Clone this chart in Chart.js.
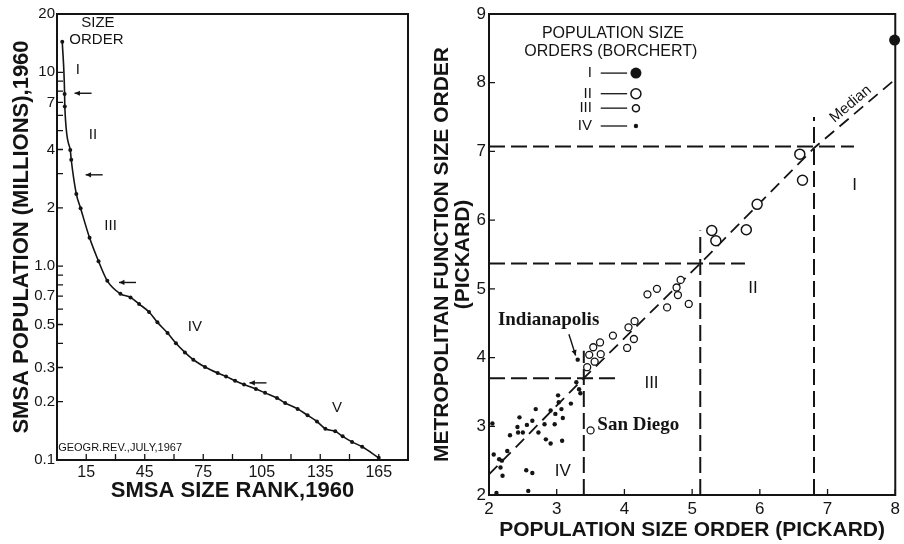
<!DOCTYPE html>
<html>
<head>
<meta charset="utf-8">
<script src="https://cdn.jsdelivr.net/npm/chart.js@4.4.1/dist/chart.umd.min.js"></script>
<style>
  body { margin: 0; background: #fff; }
  #wrap { position: relative; width: 904px; height: 544px; }
  #rankchart { position: absolute; left: 0; top: 0; }
  #orderchart { position: absolute; left: 430px; top: 0; }
</style>
</head>
<body>
<div id="wrap">
  <canvas id="rankchart" width="430" height="544"></canvas>
  <canvas id="orderchart" width="474" height="544"></canvas>
</div>
<script>
// left panel: SMSA rank vs population (millions), log scale
const smsaRanks = [2.7, 3.9, 4.0, 6.8, 7.3, 9.9, 12.1, 16.7, 21.3, 25.8, 32.5, 37.7, 42.1, 47.2, 51.5, 56.7, 61.0, 65.6, 69.9, 75.9,
  82.4, 86.7, 91.3, 95.9, 102.0, 106.7, 112.8, 117.0, 123.4, 128.5, 133.3, 137.6, 142.7, 146.5, 151.3, 156.5, 165.0];
const smsaPop = [14.4, 7.74, 6.66, 3.98, 3.54, 2.36, 1.99, 1.40, 1.06, 0.84, 0.72, 0.69, 0.638, 0.58, 0.513, 0.452, 0.40, 0.359, 0.329, 0.302,
  0.281, 0.270, 0.2565, 0.245, 0.2325, 0.222, 0.209, 0.197, 0.1835, 0.170, 0.158, 0.145, 0.1406, 0.1325, 0.124, 0.117, 0.1026];
const rankTicks = [15, 30, 45, 60, 75, 90, 105, 120, 135, 150, 165];
const popTicks = [0.1, 0.2, 0.3, 0.4, 0.5, 0.6, 0.7, 0.8, 0.9, 1, 2, 3, 4, 5, 6, 7, 8, 9, 10, 20];
const popLabels = { 0.1: '0.1', 0.2: '0.2', 0.3: '0.3', 0.5: '0.5', 0.7: '0.7', 1: '1.0', 2: '2', 4: '4', 7: '7', 10: '10', 20: '20' };
// size order breaks marked with arrows [rank, population]
const orderBreaks = [[9, 7.8], [14.7, 2.96], [31.8, 0.824], [98.7, 0.25]];
const orderNames = ['I', 'II', 'III', 'IV', 'V'];

// right panel: population size order vs metropolitan function size order (Pickard)
const borchertI = [[7.99, 8.62]];
const borchertII = [[6.59, 6.96], [6.63, 6.58], [5.96, 6.23], [5.80, 5.86], [5.29, 5.85], [5.35, 5.70]];
const borchertIII = [[4.34, 4.92], [4.48, 5.00], [4.83, 5.13], [4.77, 5.02], [4.79, 4.91], [4.95, 4.78], [4.63, 4.73], [4.06, 4.44],
  [4.15, 4.53], [3.83, 4.32], [3.64, 4.22], [3.54, 4.15], [3.48, 4.04], [3.65, 4.05], [4.14, 4.27], [4.04, 4.14], [3.56, 3.94],
  [3.45, 3.86], [3.50, 2.94]];
const borchertIV = [[3.31, 3.97], [3.29, 3.64], [3.33, 3.54], [3.35, 3.48], [3.21, 3.33], [3.02, 3.45], [3.03, 3.35], [2.91, 3.23],
  [2.98, 3.18], [3.07, 3.25], [2.69, 3.25], [3.09, 3.12], [2.97, 3.03], [2.82, 3.03], [2.64, 3.08], [2.56, 3.02], [2.45, 3.13],
  [2.42, 2.99], [2.43, 2.91], [2.50, 2.91], [2.73, 2.91], [2.31, 2.87], [3.08, 2.79], [2.84, 2.81], [2.91, 2.75], [2.27, 2.64],
  [2.05, 3.04], [2.07, 2.59], [2.15, 2.52], [2.19, 2.50], [2.17, 2.40], [2.20, 2.28], [2.55, 2.36], [2.64, 2.32], [2.11, 2.03],
  [2.58, 2.06]];
const medianLine = [[2, 2.3], [3.4, 3.7], [5.12, 5.37], [6.8, 7.05], [8, 8.05]];
const popOrderBreaks = [3.4, 5.12, 6.8];
const popOrderBreakTops = [4.1, 5.85, 7.5];
const funcOrderBreaks = [3.7, 5.37, 7.07];
const funcOrderBreakEnds = [3.95, 5.78, 7.39];
const pickardTicksX = [2, 3, 4, 5, 6, 7, 8];
const pickardTicksY = [2, 3, 4, 5, 6, 7, 8, 9];

const INK = '#141414';
const SANS = "'Liberation Sans', Arial, sans-serif";
const SERIF = "'Liberation Serif', 'Times New Roman', serif";

function toXY(pairs) {
  return pairs.map(p => ({ x: p[0], y: p[1] }));
}

function note(chart, text, x, y, font, align, angle) {
  const { ctx, scales } = chart;
  ctx.save();
  ctx.translate(scales.x.getPixelForValue(x), scales.y.getPixelForValue(y));
  ctx.rotate(angle || 0);
  ctx.font = font;
  ctx.fillStyle = INK;
  ctx.textAlign = align || 'center';
  ctx.textBaseline = 'middle';
  ctx.fillText(text, 0, 0);
  ctx.restore();
}

function arrow(ctx, x1, y1, x2, y2) {
  const ang = Math.atan2(y2 - y1, x2 - x1);
  ctx.beginPath();
  ctx.moveTo(x1, y1);
  ctx.lineTo(x2, y2);
  ctx.stroke();
  ctx.beginPath();
  ctx.moveTo(x2, y2);
  ctx.lineTo(x2 - 6 * Math.cos(ang - 0.45), y2 - 6 * Math.sin(ang - 0.45));
  ctx.lineTo(x2 - 6 * Math.cos(ang + 0.45), y2 - 6 * Math.sin(ang + 0.45));
  ctx.closePath();
  ctx.fill();
}

// frame round the plot plus tick marks pointing inward
const frameTicks = {
  id: 'frameTicks',
  afterDraw(chart) {
    const { ctx, chartArea: a, scales } = chart;
    ctx.save();
    ctx.strokeStyle = INK;
    ctx.lineWidth = 2;
    ctx.strokeRect(a.left, a.top, a.right - a.left, a.bottom - a.top);
    ctx.lineWidth = 1.3;
    ctx.beginPath();
    scales.x.ticks.forEach(t => {
      const px = scales.x.getPixelForValue(t.value);
      ctx.moveTo(px, a.bottom);
      ctx.lineTo(px, a.bottom - 6);
    });
    scales.y.ticks.forEach(t => {
      const py = scales.y.getPixelForValue(t.value);
      ctx.moveTo(a.left, py);
      ctx.lineTo(a.left + 6, py);
    });
    ctx.stroke();
    ctx.restore();
  }
};

const rankNotes = {
  id: 'rankNotes',
  afterDraw(chart) {
    const { ctx, scales } = chart;
    note(chart, 'SIZE', 21, 17.9, '15px ' + SANS);
    note(chart, 'ORDER', 20.2, 14.7, '15px ' + SANS);
    const spots = [[10.7, 10.3], [18.4, 4.76], [27.5, 1.61], [70.7, 0.489], [143.6, 0.185]];
    orderNames.forEach((n, i) => note(chart, n, spots[i][0], spots[i][1], '15px ' + SANS));
    note(chart, 'GEOGR.REV.,JULY,1967', 0.6, 0.116, '11px ' + SANS, 'left');
    ctx.save();
    ctx.strokeStyle = INK;
    ctx.fillStyle = INK;
    ctx.lineWidth = 1.4;
    orderBreaks.forEach(b => {
      const px = scales.x.getPixelForValue(b[0]);
      const py = scales.y.getPixelForValue(b[1]);
      arrow(ctx, px + 17, py, px, py);
    });
    ctx.restore();
  }
};

new Chart(document.getElementById('rankchart'), {
  type: 'line',
  data: {
    datasets: [{
      data: smsaRanks.map((r, i) => ({ x: r, y: smsaPop[i] })),
      borderColor: INK,
      backgroundColor: INK,
      borderWidth: 1.6,
      pointRadius: 2,
      pointBorderWidth: 0,
      cubicInterpolationMode: 'monotone',
      clip: false
    }]
  },
  options: {
    responsive: false,
    animation: false,
    layout: { padding: { top: 14, right: 22, bottom: 0, left: 0 } },
    plugins: { legend: { display: false }, tooltip: { enabled: false } },
    scales: {
      x: {
        type: 'linear',
        min: 0,
        max: 180,
        afterBuildTicks: scale => { scale.ticks = rankTicks.map(v => ({ value: v })); },
        afterFit: scale => { scale.height = 84; },
        grid: { display: false, drawTicks: false },
        border: { color: INK, width: 2 },
        ticks: {
          autoSkip: false,
          maxRotation: 0,
          padding: 3,
          color: INK,
          font: { family: SANS, size: 16 },
          callback: v => (v % 30 === 15 ? String(v) : '')
        },
        title: {
          display: true,
          text: 'SMSA SIZE RANK,1960',
          color: INK,
          font: { family: SANS, size: 22, weight: 'bold' },
          padding: { top: 0, bottom: 40 }
        }
      },
      y: {
        type: 'logarithmic',
        min: 0.1,
        max: 20,
        afterBuildTicks: scale => { scale.ticks = popTicks.map(v => ({ value: v })); },
        afterFit: scale => { scale.width = 57; },
        grid: { display: false, drawTicks: false },
        border: { color: INK, width: 2 },
        ticks: {
          autoSkip: false,
          padding: 2,
          color: INK,
          font: { family: SANS, size: 15 },
          callback: v => popLabels[v] || ''
        },
        title: {
          display: true,
          text: 'SMSA POPULATION (MILLIONS),1960',
          color: INK,
          font: { family: SANS, size: 22, weight: 'bold' },
          padding: { top: 9, bottom: 0 }
        }
      }
    }
  },
  plugins: [frameTicks, rankNotes]
});

const orderNotes = {
  id: 'orderNotes',
  afterDraw(chart) {
    const { ctx, scales } = chart;
    const X = v => scales.x.getPixelForValue(v);
    const Y = v => scales.y.getPixelForValue(v);
    // legend block
    note(chart, 'POPULATION SIZE', 3.83, 8.72, '16px ' + SANS);
    note(chart, 'ORDERS (BORCHERT)', 3.80, 8.45, '16px ' + SANS);
    const rows = [8.14, 7.84, 7.63, 7.37];
    const marks = [[5.5, true], [5, false], [3.5, false], [2.2, true]];
    ctx.save();
    ctx.strokeStyle = INK;
    ctx.fillStyle = INK;
    rows.forEach((ry, i) => {
      note(chart, orderNames[i], 3.52, ry, '15px ' + SANS, 'right');
      ctx.lineWidth = 1.3;
      ctx.beginPath();
      ctx.moveTo(X(3.65), Y(ry));
      ctx.lineTo(X(4.04), Y(ry));
      ctx.stroke();
      ctx.beginPath();
      ctx.arc(X(4.17), Y(ry), marks[i][0], 0, Math.PI * 2);
      if (marks[i][1]) {
        ctx.fill();
      } else {
        ctx.lineWidth = 1.5;
        ctx.stroke();
      }
    });
    ctx.restore();
    // region labels
    note(chart, 'I', 7.40, 6.51, '17px ' + SANS);
    note(chart, 'II', 5.90, 5.01, '17px ' + SANS);
    note(chart, 'III', 4.40, 3.62, '17px ' + SANS);
    note(chart, 'IV', 3.09, 2.35, '17px ' + SANS);
    // median label along the line
    const m1 = medianLine[3], m2 = medianLine[4];
    const ang = Math.atan2(Y(m2[1]) - Y(m1[1]), X(m2[0]) - X(m1[0]));
    note(chart, 'Median', 7.34, 7.69, '15px ' + SANS, 'center', ang);
    note(chart, 'Indianapolis', 2.88, 4.54, 'bold 19px ' + SERIF);
    note(chart, 'San Diego', 3.60, 3.02, 'bold 19px ' + SERIF, 'left');
    ctx.save();
    ctx.strokeStyle = INK;
    ctx.fillStyle = INK;
    ctx.lineWidth = 1.4;
    arrow(ctx, X(3.18), Y(4.34), X(3.28), Y(4.03));
    ctx.restore();
  }
};

const dashed = (pts, dash, width) => ({
  data: toXY(pts),
  showLine: true,
  borderColor: INK,
  borderWidth: width,
  borderDash: dash,
  pointRadius: 0,
  order: 1
});

const breakLines = [];
popOrderBreaks.forEach((b, i) => breakLines.push(dashed([[b, 2], [b, popOrderBreakTops[i]]], [16, 6], 2)));
funcOrderBreaks.forEach((b, i) => breakLines.push(dashed([[2, b], [funcOrderBreakEnds[i], b]], [16, 6], 2)));

new Chart(document.getElementById('orderchart'), {
  type: 'scatter',
  data: {
    datasets: [
      { data: toXY(borchertI), pointRadius: 5.5, backgroundColor: INK, borderColor: INK, borderWidth: 0, clip: false, order: 0 },
      { data: toXY(borchertII), pointRadius: 5, backgroundColor: '#fff', borderColor: INK, borderWidth: 1.5, order: 0 },
      { data: toXY(borchertIII), pointRadius: 3.5, backgroundColor: '#fff', borderColor: INK, borderWidth: 1.3, order: 0 },
      { data: toXY(borchertIV), pointRadius: 2.2, backgroundColor: INK, borderColor: INK, borderWidth: 0, order: 0 },
      dashed(medianLine, [12, 7], 1.8),
      ...breakLines
    ]
  },
  options: {
    responsive: false,
    animation: false,
    layout: { padding: { top: 14, right: 6, bottom: 0, left: 0 } },
    plugins: { legend: { display: false }, tooltip: { enabled: false } },
    scales: {
      x: {
        type: 'linear',
        min: 2,
        max: 8,
        afterBuildTicks: scale => { scale.ticks = pickardTicksX.map(v => ({ value: v })); },
        afterFit: scale => { scale.height = 49; },
        grid: { display: false, drawTicks: false },
        border: { color: INK, width: 2 },
        ticks: { autoSkip: false, maxRotation: 0, padding: 4, color: INK, font: { family: SANS, size: 17 } },
        title: {
          display: true,
          text: 'POPULATION SIZE ORDER (PICKARD)',
          color: INK,
          font: { family: SANS, size: 21, weight: 'bold' },
          padding: { top: 0, bottom: 1 }
        }
      },
      y: {
        type: 'linear',
        min: 2,
        max: 9,
        afterBuildTicks: scale => { scale.ticks = pickardTicksY.map(v => ({ value: v })); },
        afterFit: scale => { scale.width = 59; },
        grid: { display: false, drawTicks: false },
        border: { color: INK, width: 2 },
        ticks: { autoSkip: false, padding: 3, color: INK, font: { family: SANS, size: 17 } },
        title: {
          display: true,
          text: ['METROPOLITAN FUNCTION SIZE ORDER', '(PICKARD)'],
          color: INK,
          font: { family: SANS, size: 21, weight: 'bold', lineHeight: 1.0 },
          padding: { top: 1.5, bottom: 0 }
        }
      }
    }
  },
  plugins: [frameTicks, orderNotes]
});
</script>
</body>
</html>
